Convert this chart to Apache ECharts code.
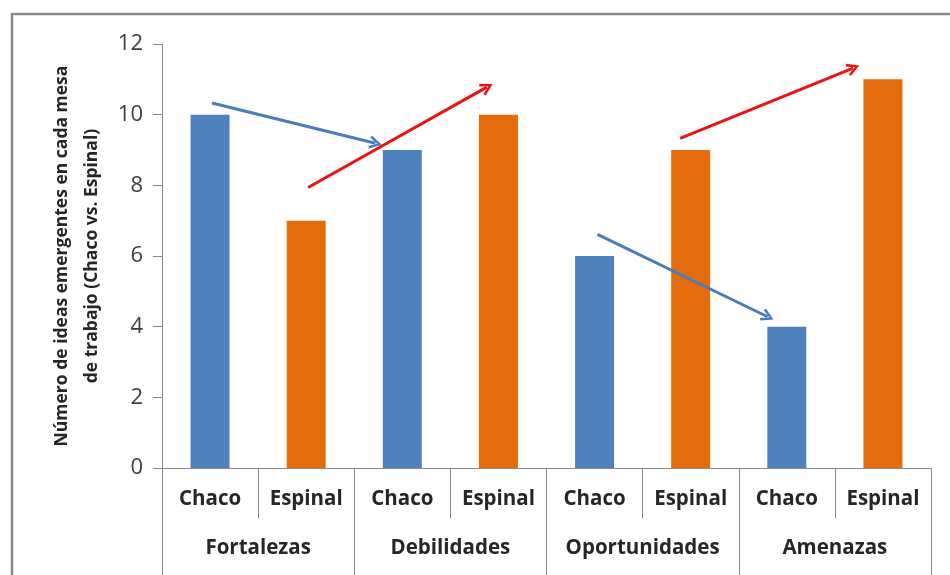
<!DOCTYPE html>
<html>
<head>
<meta charset="utf-8">
<script src="https://cdn.jsdelivr.net/npm/echarts@6/dist/echarts.min.js"></script>
<style>
  html, body { margin: 0; padding: 0; background: #ffffff; }
  #chart { width: 950px; height: 575px; }
</style>
</head>
<body>
<div id="chart"></div>
<script>
// Ideas per working table, Chaco vs. Espinal, grouped by SWOT quadrant
const groups = ['Fortalezas', 'Debilidades', 'Oportunidades', 'Amenazas'];
const regions = ['Chaco', 'Espinal'];
const chacoValues = [10, 9, 6, 4];
const espinalValues = [7, 10, 9, 11];
const yTicks = { min: 0, max: 12, interval: 2 };

// Trend arrows, in (bar index, value) units: [start, end]
const blueArrows = [
  [[0.02, 10.33], [1.72, 9.19]],
  [[4.03, 6.61], [5.80, 4.28]]
];
const redArrows = [
  [[1.02, 7.94], [2.88, 10.78]],
  [[4.89, 9.33], [6.69, 11.32]]
];

const colors = { Chaco: '#4f81bd', Espinal: '#e46c0a' };

// Flatten into one bar per (group, region)
const barLabels = [];
const barData = [];
groups.forEach((g, i) => {
  barLabels.push(regions[0]);
  barData.push({ value: chacoValues[i], itemStyle: { color: colors.Chaco } });
  barLabels.push(regions[1]);
  barData.push({ value: espinalValues[i], itemStyle: { color: colors.Espinal } });
});

const font = '"Open Sans", "Liberation Sans", sans-serif';
const axisGray = '#898989';
const chevron = 'path://M5,0 L10,8.2 L8.4,9.4 L5,3.4 L1.6,9.4 L0,8.2 Z';

function arrowSeries(list, color) {
  return {
    type: 'lines',
    coordinateSystem: 'cartesian2d',
    xAxisIndex: 2,
    yAxisIndex: 0,
    symbol: ['none', chevron],
    symbolSize: [17, 13],
    silent: true,
    z: 5,
    lineStyle: { color: color, width: 3, opacity: 1, curveness: 0 },
    data: list.map(c => ({ coords: c }))
  };
}

const chart = echarts.init(document.getElementById('chart'), null, { renderer: 'canvas' });
chart.setOption({
  animation: false,
  backgroundColor: '#ffffff',
  grid: { left: 162, right: 19, top: 44, bottom: 107, containLabel: false },
  graphic: [{
    type: 'rect',
    shape: { x: 12, y: 14, width: 960, height: 620 },
    style: { fill: 'none', stroke: '#8a8a8a', lineWidth: 2.5 },
    silent: true
  }],
  xAxis: [
    {
      type: 'category',
      data: barLabels,
      position: 'bottom',
      axisLine: { show: true, onZero: false, lineStyle: { color: axisGray, width: 1 } },
      axisTick: { show: true, interval: 0, length: 50, lineStyle: { color: axisGray } },
      axisLabel: {
        interval: 0, margin: 21, color: '#262626',
        fontFamily: font, fontSize: 20.5, fontWeight: 'bold'
      }
    },
    {
      type: 'category',
      data: groups,
      position: 'bottom',
      axisLine: { show: false, onZero: false },
      axisTick: { show: true, interval: 0, length: 110, lineStyle: { color: axisGray } },
      axisLabel: {
        interval: 0, margin: 70, color: '#262626',
        fontFamily: font, fontSize: 20.5, fontWeight: 'bold'
      }
    },
    {
      type: 'value',
      min: -0.5,
      max: barLabels.length - 0.5,
      show: false
    }
  ],
  yAxis: {
    type: 'value',
    min: yTicks.min,
    max: yTicks.max,
    interval: yTicks.interval,
    name: 'Número de ideas emergentes en cada mesa\nde trabajo (Chaco vs. Espinal)',
    nameLocation: 'middle',
    nameRotate: 90,
    nameGap: 54,
    nameTextStyle: {
      color: '#262626', fontFamily: font, fontSize: 17.5, fontWeight: 'bold', lineHeight: 30
    },
    axisLine: { show: true, onZero: false, lineStyle: { color: axisGray } },
    axisTick: { show: true, length: 9, lineStyle: { color: axisGray } },
    axisLabel: { margin: 19, color: '#404040', fontFamily: font, fontSize: 22 },
    splitLine: { show: false }
  },
  series: [
    {
      type: 'bar',
      xAxisIndex: 0,
      yAxisIndex: 0,
      barWidth: 39,
      data: barData
    },
    arrowSeries(blueArrows, '#4a7ebb'),
    arrowSeries(redArrows, '#ee1111')
  ]
});
</script>
</body>
</html>
